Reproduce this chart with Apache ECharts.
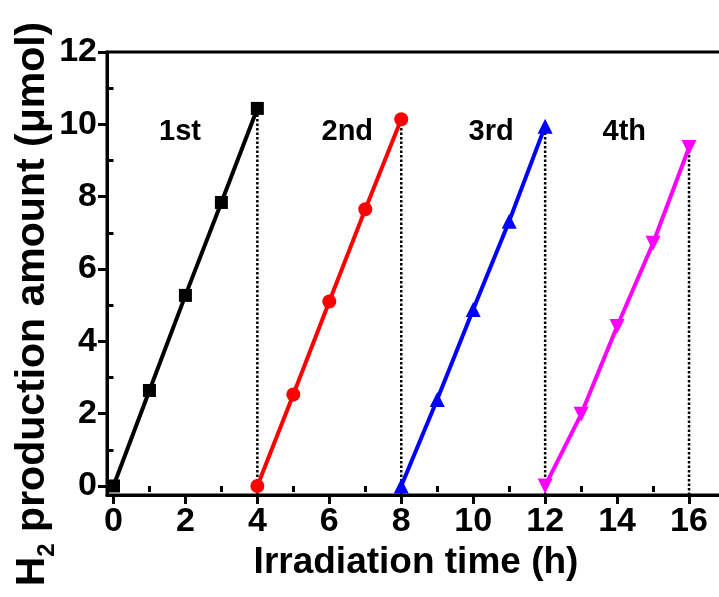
<!DOCTYPE html>
<html>
<head>
<meta charset="utf-8">
<script src="https://cdn.jsdelivr.net/npm/echarts@6/dist/echarts.min.js"></script>
<style>
html,body{margin:0;padding:0;background:#fff;}
#chart{width:719px;height:597px;}
</style>
</head>
<body>
<div id="chart"></div>
<script>
// ---- data ----
const cycleNames = ['1st', '2nd', '3rd', '4th'];
const hours1 = [0, 1, 2, 3, 4];
const h2Cycle1 = [0, 2.64, 5.27, 7.84, 10.44];
const hours2 = [4, 5, 6, 7, 8];
const h2Cycle2 = [0, 2.53, 5.1, 7.65, 10.14];
const hours3 = [8, 9, 10, 11, 12];
const h2Cycle3 = [0, 2.39, 4.88, 7.32, 9.95];
const hours4 = [12, 13, 14, 15, 16];
const h2Cycle4 = [0, 1.98, 4.41, 6.71, 9.36];
const xTickLabels = [0, 2, 4, 6, 8, 10, 12, 14, 16];
const xMinorTicks = [1, 3, 5, 7, 9, 11, 13, 15, 17];
const yTickLabels = [0, 2, 4, 6, 8, 10, 12];
const yMinorTicks = [1, 3, 5, 7, 9, 11];
// annotation anchor positions (layout, in data units)
const cycleLabelPos = [[1.85, 9.78], [6.5, 9.78], [10.5, 9.78], [14.2, 9.78]];

// ---- layout / style ----
const X_MIN = -0.18, X_MAX = 17;
const Y_MIN = -0.25, Y_MAX = 12;
const FONT = 'Liberation Sans, Arial, sans-serif';
const colors = ['#000000', '#ff0000', '#0000ff', '#ff00ff'];
const symbols = ['rect', 'circle', 'triangle', 'triangle'];
const symbolSizes = [13, 14, 15, 15];
const symbolRotates = [0, 0, 0, 180];

const allHours = [hours1, hours2, hours3, hours4];
const allH2 = [h2Cycle1, h2Cycle2, h2Cycle3, h2Cycle4];

const chart = echarts.init(document.getElementById('chart'), null, {renderer: 'canvas'});

const series = [];
// dotted guide lines at the end of each cycle
allHours.forEach((hs, i) => {
  const lastX = hs[hs.length - 1];
  const lastY = allH2[i][allH2[i].length - 1];
  series.push({
    type: 'line',
    data: [[lastX, Y_MIN], [lastX, lastY]],
    showSymbol: false,
    symbol: 'none',
    silent: true,
    z: 1,
    lineStyle: {color: '#000', width: 2.5, type: [2.5, 2]}
  });
});
allHours.forEach((hs, i) => {
  series.push({
    type: 'line',
    name: cycleNames[i],
    data: hs.map((h, j) => [h, allH2[i][j]]),
    symbol: symbols[i],
    symbolSize: symbolSizes[i],
    symbolRotate: symbolRotates[i],
    showSymbol: true,
    z: 3,
    itemStyle: {color: colors[i], opacity: 1},
    lineStyle: {color: colors[i], width: 4}
  });
});
series.push({
  type: 'scatter',
  symbolSize: 1,
  silent: true,
  itemStyle: {opacity: 0},
  data: cycleLabelPos.map((p, i) => ({value: p, name: cycleNames[i]})),
  z: 4
});

const option = {
  backgroundColor: '#fff',
  animation: false,
  grid: {
    left: 107, top: 52, width: 618, height: 443,
    outerBoundsMode: 'none',
    containLabel: false,
    show: true, borderColor: '#000', borderWidth: 3, backgroundColor: 'transparent'
  },
  xAxis: [{
    type: 'value', min: X_MIN, max: X_MAX,
    splitLine: {show: false},
    axisLine: {show: true, onZero: false, lineStyle: {color: '#000', width: 3}},
    axisTick: {show: true, customValues: xTickLabels, inside: false, length: 9, lineStyle: {color: '#000', width: 3}},
    axisLabel: {customValues: xTickLabels, margin: 10, fontFamily: FONT, fontWeight: 'bold', fontSize: 34, color: '#000'},
    name: 'Irradiation time (h)',
    nameLocation: 'middle',
    nameGap: 46,
    nameTextStyle: {fontFamily: FONT, fontWeight: 'bold', fontSize: 37, color: '#000'}
  }, {
    type: 'value', min: X_MIN, max: X_MAX, position: 'bottom',
    splitLine: {show: false},
    axisLine: {show: false},
    axisTick: {show: true, customValues: xMinorTicks, length: 6, lineStyle: {color: '#000', width: 3}},
    axisLabel: {show: false}
  }],
  yAxis: [{
    type: 'value', min: Y_MIN, max: Y_MAX,
    splitLine: {show: false},
    axisLine: {show: true, onZero: false, lineStyle: {color: '#000', width: 3}},
    axisTick: {show: true, customValues: yTickLabels, inside: false, length: 9, lineStyle: {color: '#000', width: 3}},
    axisLabel: {customValues: yTickLabels, margin: 10, fontFamily: FONT, fontWeight: 'bold', fontSize: 34, color: '#000'}
  }, {
    type: 'value', min: Y_MIN, max: Y_MAX, position: 'left',
    splitLine: {show: false},
    axisLine: {show: false},
    axisTick: {show: true, customValues: yMinorTicks, length: 6, lineStyle: {color: '#000', width: 3}},
    axisLabel: {show: false}
  }],
  graphic: [{
    type: 'text',
    x: 33, y: 304,
    rotation: Math.PI / 2,
    style: {
      text: '{m|H}{s|2}{m| production amount (μmol)}',
      align: 'center',
      verticalAlign: 'middle',
      fill: '#000',
      rich: {
        m: {fontFamily: FONT, fontWeight: 'bold', fontSize: 41, lineHeight: 52, fill: '#000', verticalAlign: 'middle'},
        s: {fontFamily: FONT, fontWeight: 'bold', fontSize: 24, lineHeight: 24, fill: '#000', verticalAlign: 'bottom'}
      }
    }
  }],
  series: series
};
chart.setOption(option);

// cycle annotations placed through the chart's own coordinate conversion
const annots = cycleLabelPos.map((p, i) => {
  const px = chart.convertToPixel({xAxisIndex: 0, yAxisIndex: 0}, p);
  return {
    type: 'text', x: px[0], y: px[1], z: 10,
    style: {text: cycleNames[i], align: 'center', verticalAlign: 'middle',
            fontFamily: FONT, fontWeight: 'bold', fontSize: 29, fill: '#000'}
  };
});
chart.setOption({graphic: option.graphic.concat(annots)});
</script>
</body>
</html>
